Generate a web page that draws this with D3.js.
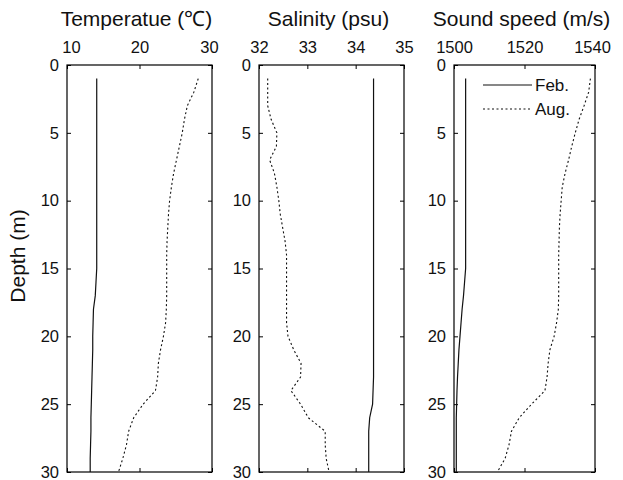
<!DOCTYPE html>
<html>
<head>
<meta charset="utf-8">
<script src="https://cdn.jsdelivr.net/npm/d3@7"></script>
<style>
  html, body { margin: 0; padding: 0; background: #fff; }
  svg { display: block; }
  text { font-family: "Liberation Sans", Arial, sans-serif; fill: #111; }
</style>
</head>
<body>
<svg id="chart" width="623" height="480"></svg>
<script>
// ---------- data ----------
const depths = d3.range(1, 31); // 1..30 m

const tempFeb = [14.1,14.1,14.1,14.1,14.1,14.1,14.1,14.1,14.1,14.1,
                 14.1,14.1,14.1,14.1,14.1,14.0,13.9,13.65,13.6,13.55,
                 13.55,13.5,13.45,13.4,13.35,13.3,13.3,13.25,13.2,13.2];
const tempAug = [28.1,27.5,26.6,26.2,25.9,25.5,25.1,24.7,24.4,24.15,
                 24.0,23.9,23.8,23.75,23.75,23.75,23.75,23.7,23.6,23.3,
                 22.9,22.6,22.5,22.2,20.5,19.2,18.5,18.2,17.7,17.1];

const salFeb = [34.37,34.37,34.37,34.37,34.37,34.37,34.37,34.37,34.37,34.37,
                34.37,34.37,34.37,34.37,34.37,34.37,34.37,34.37,34.37,34.37,
                34.37,34.37,34.37,34.36,34.35,34.29,34.27,34.27,34.27,34.27];
const salAug = [32.18,32.18,32.18,32.25,32.37,32.36,32.22,32.32,32.37,32.41,
                32.44,32.49,32.54,32.57,32.57,32.57,32.57,32.57,32.57,32.60,
                32.72,32.87,32.86,32.66,32.86,33.02,33.37,33.37,33.39,33.45];

const ssFeb = [1503.3,1503.3,1503.3,1503.3,1503.3,1503.3,1503.3,1503.3,1503.3,1503.3,
               1503.3,1503.3,1503.3,1503.3,1503.3,1503.0,1502.7,1502.3,1502.0,1501.7,
               1501.4,1501.2,1501.0,1500.85,1500.75,1500.65,1500.65,1500.65,1500.65,1500.65];
const ssAug = [1538.7,1538.2,1536.9,1535.5,1534.4,1533.4,1532.5,1531.5,1530.7,1530.4,
               1530.1,1529.9,1529.8,1529.7,1529.7,1529.7,1529.7,1529.6,1529.1,1528.4,
               1527.2,1526.7,1526.4,1525.8,1522.0,1518.5,1516.3,1515.6,1514.5,1512.3];

const titles = ["Temperatue (\u2103)", "Salinity (psu)", "Sound speed (m/s)"];
const xDomains = [[10, 30], [32, 35], [1500, 1540]];
const xTickVals = [[10, 20, 30], [32, 33, 34, 35], [1500, 1520, 1540]];
const depthTicks = [0, 5, 10, 15, 20, 25, 30];
const seriesNames = ["Feb.", "Aug."];

// ---------- layout ----------
const svg = d3.select("#chart");
const panelLeft = [67, 259, 454];
const panelWidth = [145, 145, 141];
const plotTop = 65, plotBottom = 472;
const tickLen = 4;
const fmt = d3.format("d");

const y = d3.scaleLinear().domain([0, 30]).range([plotTop, plotBottom]);

const panels = [
  { feb: tempFeb, aug: tempAug },
  { feb: salFeb, aug: salAug },
  { feb: ssFeb, aug: ssAug }
];

panels.forEach((p, i) => {
  const x = d3.scaleLinear().domain(xDomains[i])
    .range([panelLeft[i], panelLeft[i] + panelWidth[i]]);
  const g = svg.append("g");

  // frame
  g.append("rect")
    .attr("x", panelLeft[i]).attr("y", plotTop)
    .attr("width", panelWidth[i]).attr("height", plotBottom - plotTop)
    .attr("fill", "none").attr("stroke", "#000").attr("stroke-width", 1.2);

  // top axis (labels + inward ticks)
  const topAxis = d3.axisTop(x).tickValues(xTickVals[i]).tickFormat(fmt)
    .tickSizeInner(-tickLen).tickSizeOuter(0).tickPadding(tickLen + 8);
  const ta = g.append("g").attr("transform", `translate(0,${plotTop})`).call(topAxis);
  ta.select(".domain").remove();
  ta.selectAll("text").attr("font-size", 16.5).attr("font-family", null);
  ta.selectAll("line").attr("stroke", "#000");
  if (i === 0) {
    ta.selectAll(".tick text").attr("dx", (d, k) => k === 0 ? 4 : (k === xTickVals[i].length - 1 ? -3 : 0));
  }
  if (i === 2) {
    ta.selectAll(".tick text").attr("dx", (d, k) => k === xTickVals[i].length - 1 ? -3 : 0);
  }

  // bottom ticks
  const botAxis = d3.axisBottom(x).tickValues(xTickVals[i]).tickSizeInner(-tickLen).tickSizeOuter(0).tickFormat("");
  const ba = g.append("g").attr("transform", `translate(0,${plotBottom})`).call(botAxis);
  ba.select(".domain").remove();
  ba.selectAll("line").attr("stroke", "#000");

  // left axis (labels + inward ticks)
  const leftAxis = d3.axisLeft(y).tickValues(depthTicks).tickFormat(fmt)
    .tickSizeInner(-tickLen).tickSizeOuter(0).tickPadding(tickLen + 4);
  const la = g.append("g").attr("transform", `translate(${panelLeft[i]},0)`).call(leftAxis);
  la.select(".domain").remove();
  la.selectAll("text").attr("font-size", 16.5).attr("font-family", null);
  la.selectAll("line").attr("stroke", "#000");

  // right ticks
  const rightAxis = d3.axisRight(y).tickValues(depthTicks).tickSizeInner(-tickLen).tickSizeOuter(0).tickFormat("");
  const ra = g.append("g").attr("transform", `translate(${panelLeft[i] + panelWidth[i]},0)`).call(rightAxis);
  ra.select(".domain").remove();
  ra.selectAll("line").attr("stroke", "#000");

  // lines
  const line = d3.line().x(d => x(d[0])).y(d => y(d[1]));
  g.append("path")
    .datum(p.feb.map((v, k) => [v, depths[k]]))
    .attr("d", line).attr("fill", "none")
    .attr("stroke", "#111").attr("stroke-width", 1.2);
  g.append("path")
    .datum(p.aug.map((v, k) => [v, depths[k]]))
    .attr("d", line).attr("fill", "none")
    .attr("stroke", "#111").attr("stroke-width", 1.1)
    .attr("stroke-dasharray", "2,2.5");

  // title
  svg.append("text")
    .attr("x", panelLeft[i] + panelWidth[i] / 2 - 3)
    .attr("y", 26)
    .attr("text-anchor", "middle")
    .attr("font-size", 21)
    .text(titles[i]);
});

// y-axis label
svg.append("text")
  .attr("transform", "translate(25,256) rotate(-90)")
  .attr("text-anchor", "middle")
  .attr("font-size", 21)
  .text("Depth (m)");

// legend in 3rd panel
const legend = svg.append("g");
const legY = [85, 109];
seriesNames.forEach((name, k) => {
  legend.append("line")
    .attr("x1", 483).attr("x2", 532)
    .attr("y1", legY[k]).attr("y2", legY[k])
    .attr("stroke", "#111").attr("stroke-width", k === 0 ? 1.2 : 1.1)
    .attr("stroke-dasharray", k === 0 ? null : "2,2.5");
  legend.append("text")
    .attr("x", 535).attr("y", legY[k] + 6)
    .attr("font-size", 17)
    .text(name);
});
</script>
</body>
</html>
